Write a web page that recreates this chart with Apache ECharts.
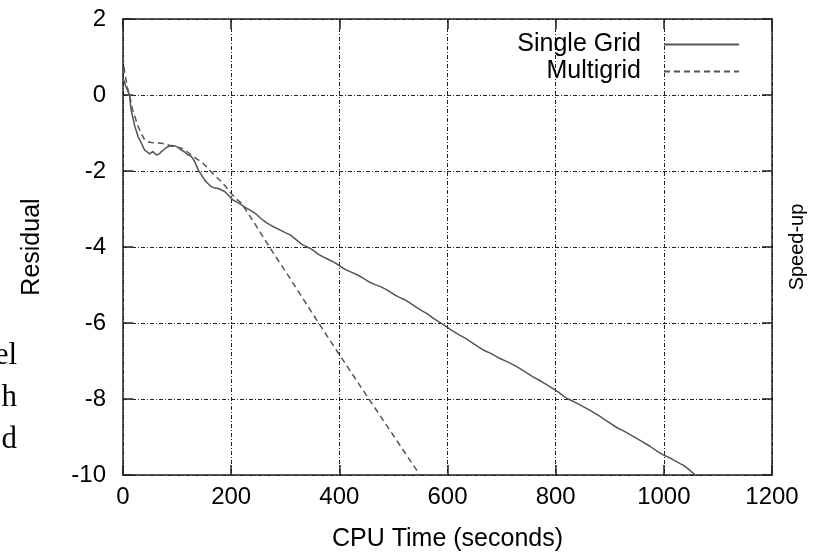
<!DOCTYPE html>
<html>
  <head>
    <meta charset="utf-8" />
    <title>Residual vs CPU time</title>
    <script src="https://cdn.jsdelivr.net/npm/echarts/dist/echarts.min.js"></script>
    <style>
      html, body { margin: 0; padding: 0; background: #fff; }
    </style>
  </head>
  <body>
    <div id="main" style="width: 815px;height:555px;"></div>

    <script type="text/javascript">
      // Single Grid run (solid line)
      var singleTime = [0, 6, 12, 15, 22, 28, 34, 40, 45, 49, 55, 62, 67, 71, 77, 83, 90, 96, 102, 108,
        114, 120, 125, 129, 134, 139, 145, 151, 157, 163, 170, 176, 182, 188, 195, 203, 215, 225, 235, 245,
        255, 265, 272, 280, 290, 300, 309, 318, 326, 333, 340, 350, 360, 370, 380, 390, 401, 412, 422, 433,
        444, 455, 466, 477, 488, 499, 510, 520, 531, 542, 553, 563, 574, 585, 595, 605, 620, 635, 650, 666,
        680, 695, 712, 728, 743, 758, 774, 790, 805, 820, 835, 851, 866, 882, 897, 913, 928, 944, 960, 975,
        990, 999, 1015, 1030, 1036, 1045, 1058];
      var singleResid = [0.45, 0.2, 0, -0.4, -0.83, -1.1, -1.27, -1.45, -1.5, -1.55, -1.49, -1.58, -1.55, -1.49, -1.42, -1.36, -1.33, -1.34, -1.38, -1.45,
        -1.5, -1.58, -1.6, -1.67, -1.8, -1.97, -2.1, -2.24, -2.33, -2.41, -2.45, -2.46, -2.5, -2.54, -2.64, -2.76, -2.85, -2.95, -3.03, -3.12,
        -3.25, -3.36, -3.42, -3.48, -3.55, -3.62, -3.68, -3.78, -3.88, -3.95, -3.99, -4.07, -4.18, -4.26, -4.33, -4.4, -4.5, -4.6, -4.66, -4.73,
        -4.82, -4.92, -4.99, -5.05, -5.13, -5.23, -5.32, -5.38, -5.48, -5.58, -5.68, -5.76, -5.88, -5.98, -6.07, -6.17, -6.3, -6.42, -6.56, -6.71,
        -6.8, -6.92, -7.03, -7.15, -7.28, -7.42, -7.54, -7.68, -7.82, -7.98, -8.08, -8.2, -8.32, -8.46, -8.6, -8.75, -8.86, -8.99, -9.12, -9.25,
        -9.4, -9.47, -9.58, -9.7, -9.74, -9.84, -10];

      // Multigrid run (dashed line)
      var multiTime = [0, 3, 8, 12, 18, 23, 28, 34, 40, 46, 52, 60, 71, 80, 89, 98, 108, 117, 126, 135,
        145, 154, 163, 172, 182, 191, 200, 210, 219, 240, 272, 300, 358, 400, 450, 500, 549];
      var multiResid = [1.0, 0.6, 0.2, 0, -0.4, -0.62, -0.83, -1.02, -1.18, -1.23, -1.25, -1.26, -1.27, -1.3, -1.34, -1.37, -1.4, -1.48, -1.58, -1.67,
        -1.76, -1.88, -2.02, -2.15, -2.28, -2.43, -2.59, -2.74, -2.85, -3.3, -4.03, -4.63, -5.92, -6.83, -7.9, -8.96, -10];

      // line ends of the page text, cut off at the left edge
      var sideWords = ['el', 'h', 'd'];

      var font = 'Liberation Sans, Arial, sans-serif';
      var gridDash = [4, 2, 1, 2];
      var ink = '#222';

      var myChart = echarts.init(document.getElementById('main'));

      function pairs(xs, ys) {
        var out = [];
        for (var i = 0; i < xs.length; i++) out.push([xs[i], ys[i]]);
        return out;
      }

      var legendBase = {
        orient: 'vertical',
        right: 75,
        padding: 0,
        align: 'right',
        itemWidth: 75,
        itemHeight: 12,
        textStyle: { fontSize: 25, color: '#000', fontFamily: font, padding: [0, 18, 0, 0] },
        itemStyle: { opacity: 0 }
      };

      var tickStyle = { inside: true, length: 10, lineStyle: { color: ink, width: 1.5 } };
      var lineStyle = { onZero: false, lineStyle: { color: ink, width: 1.5 } };

      var option = {
        animation: false,
        backgroundColor: '#fff',
        grid: { left: 123, right: 43, top: 19, bottom: 80, containLabel: false, outerBoundsMode: 'none' },
        legend: [
          Object.assign({}, legendBase, { data: ['Single Grid'], top: 32 }),
          Object.assign({}, legendBase, { data: ['Multigrid'], top: 59 })
        ],
        xAxis: [
          {
            type: 'value',
            min: 0, max: 1200, interval: 200,
            name: 'CPU Time (seconds)',
            nameLocation: 'middle',
            nameGap: 52,
            nameTextStyle: { fontSize: 25, color: '#000', fontFamily: font },
            axisLine: lineStyle,
            axisTick: tickStyle,
            axisLabel: { fontSize: 24, color: '#000', fontFamily: font, margin: 10,
              formatter: function (v) { return String(v); } },
            splitLine: { show: true, lineStyle: { color: ink, width: 1, type: gridDash } }
          },
          {
            type: 'value', position: 'top',
            min: 0, max: 1200, interval: 200,
            axisLine: lineStyle,
            axisTick: tickStyle,
            axisLabel: { show: false },
            splitLine: { show: false }
          }
        ],
        yAxis: [
          {
            type: 'value',
            min: -10, max: 2, interval: 2,
            name: 'Residual',
            nameLocation: 'middle',
            nameRotate: 90,
            nameGap: 78,
            nameTextStyle: { fontSize: 25, color: '#000', fontFamily: font },
            axisLine: Object.assign({ show: true }, lineStyle),
            axisTick: Object.assign({ show: true }, tickStyle),
            axisLabel: { fontSize: 24, color: '#000', fontFamily: font, margin: 17 },
            splitLine: { show: true, lineStyle: { color: ink, width: 1, type: gridDash } }
          },
          {
            type: 'value', position: 'right',
            min: -10, max: 2, interval: 2,
            name: 'Speed-up',
            nameLocation: 'middle',
            nameRotate: 90,
            nameGap: 15,
            nameTextStyle: { fontSize: 20, color: '#000', fontFamily: font },
            axisLine: Object.assign({ show: true }, lineStyle),
            axisTick: Object.assign({ show: true }, tickStyle),
            axisLabel: { show: false },
            splitLine: { show: false }
          }
        ],
        graphic: sideWords.map(function (w, i) {
          return {
            type: 'text',
            x: 17,
            y: 356 + i * 42,
            style: {
              text: w,
              textAlign: 'right',
              textVerticalAlign: 'middle',
              font: '31px "Liberation Serif", "Times New Roman", serif',
              fill: '#000'
            }
          };
        }),
        series: [
          {
            name: 'Single Grid',
            type: 'line',
            symbol: 'none',
            data: pairs(singleTime, singleResid),
            lineStyle: { color: '#555', width: 1.5 },
            itemStyle: { color: '#555' }
          },
          {
            name: 'Multigrid',
            type: 'line',
            symbol: 'none',
            data: pairs(multiTime, multiResid),
            lineStyle: { color: '#555', width: 1.5, type: [6, 4] },
            itemStyle: { color: '#555' }
          }
        ]
      };

      myChart.setOption(option);
    </script>
  </body>
</html>
